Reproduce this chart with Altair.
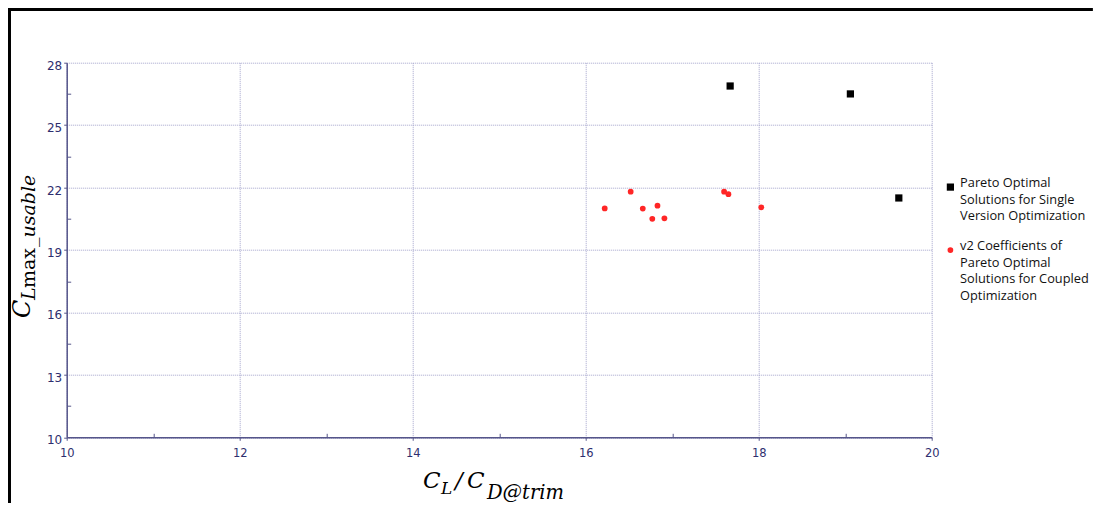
import json
import altair as alt
import pandas as pd

# ---------------- data ----------------
SERIES = ["single", "coupled"]
SINGLE_X = [17.67, 19.06, 19.62]
SINGLE_Y = [26.88, 26.50, 21.50]
COUPLED_X = [16.22, 16.52, 16.66, 16.77, 16.83, 16.91, 17.60, 17.65, 18.03]
COUPLED_Y = [21.00, 21.80, 20.99, 20.50, 21.13, 20.52, 21.80, 21.68, 21.05]
LEGEND_LINES = [
    ["Pareto Optimal", "Solutions for Single", "Version Optimization"],
    ["v2 Coefficients of", "Pareto Optimal", "Solutions for Coupled", "Optimization"],
]
X_TICKS = [10, 12, 14, 16, 18, 20]
Y_TICKS = [10, 13, 16, 19, 22, 25, 28]
X_MINOR = [11, 13, 15, 17, 19]
Y_MINOR = [11.5, 14.5, 17.5, 20.5, 23.5, 26.5]

df = pd.DataFrame({
    "x": SINGLE_X + COUPLED_X,
    "y": SINGLE_Y + COUPLED_Y,
    "series": [SERIES[0]] * len(SINGLE_X) + [SERIES[1]] * len(COUPLED_X),
})

# ---------------- layout ----------------
PAD_L, PAD_T, PAD_R, PAD_B = 58.7, 54.7, 161.2, 66
W, H = 865, 374.6
OX, OY = 8 + PAD_L, 8 + PAD_T  # page coords of plot origin

AXIS_COLOR = "#55558a"
LABEL_COLOR = "#2e2e6e"
GRID_COLOR = "#a4a4cc"
MATH_FONT = "DejaVu Serif"

xs = alt.Scale(domain=[10, 20], nice=False, zero=False)
ys = alt.Scale(domain=[10, 28], nice=False, zero=False)

label_expr = "datum.label == '%s' ? %s : %s" % (
    SERIES[0], json.dumps(LEGEND_LINES[0]), json.dumps(LEGEND_LINES[1]))

legend = alt.Legend(
    title=None, orient="none", legendX=877.3, legendY=118,
    labelExpr=label_expr, labelFont="Open Sans", labelFontSize=12.8,
    labelColor="#111111", labelBaseline="alphabetic", labelLimit=400,
    labelOffset=3.3, symbolStrokeWidth=0, rowPadding=16, padding=0,
)

points = alt.Chart(df).mark_point(filled=True, opacity=1, strokeWidth=0).encode(
    x=alt.X("x:Q", scale=xs, axis=alt.Axis(
        values=X_TICKS, title=None, grid=True, gridColor=GRID_COLOR, gridDash=[1, 1],
        gridWidth=1, domainColor=AXIS_COLOR, domainWidth=1.5, tickColor=AXIS_COLOR,
        tickSize=3, labelFont="DejaVu Sans", labelFontSize=11.5, labelColor=LABEL_COLOR,
        labelPadding=7, labelFlush=False, format="d")),
    y=alt.Y("y:Q", scale=ys, axis=alt.Axis(
        values=Y_TICKS, title=None, grid=True, gridColor=GRID_COLOR, gridDash=[1, 1],
        gridWidth=1, domainColor=AXIS_COLOR, domainWidth=1.5, tickColor=AXIS_COLOR,
        tickSize=3, labelFont="DejaVu Sans", labelFontSize=12, labelColor=LABEL_COLOR,
        labelPadding=2, labelFlush=False, labelOffset=2.5, format="d")),
    color=alt.Color("series:N", scale=alt.Scale(domain=SERIES, range=["#000000", "#ff2626"]), legend=legend),
    shape=alt.Shape("series:N", scale=alt.Scale(domain=SERIES, range=["square", "circle"]), legend=legend),
    size=alt.Size("series:N", scale=alt.Scale(domain=SERIES, range=[52, 33]), legend=legend),
)

minor = alt.Chart(df).mark_point(opacity=0).encode(
    x=alt.X("x:Q", scale=xs, axis=alt.Axis(
        orient="top", offset=-H, values=X_MINOR, labels=False, domain=False, grid=False,
        tickColor=AXIS_COLOR, tickSize=4, title=None)),
    y=alt.Y("y:Q", scale=ys, axis=alt.Axis(
        orient="right", offset=-W, values=Y_MINOR, labels=False, domain=False, grid=False,
        tickColor=AXIS_COLOR, tickSize=4, title=None)),
)

dummy = pd.DataFrame({"k": [0]})


def txt(t, size, style, px, py, angle=0):
    kw = dict(text=t, font=MATH_FONT, fontSize=size, fontStyle=style,
              align="left", baseline="alphabetic", color="#000000")
    if angle:
        kw["angle"] = angle
    return alt.Chart(dummy).mark_text(**kw).encode(
        x=alt.value(px - OX), y=alt.value(py - OY))


# y title pieces: (text, size, style, baseline x, start y) page coords
Y_TITLE = [("C", 24, "italic", 30, 318), ("L", 19, "italic", 35.5, 300),
           ("max", 19, "normal", 35.5, 288), ("_usable", 19, "italic", 35.5, 247)]
# x title pieces: (text, size, style, x, baseline y)
X_TITLE = [("C", 23, "italic", 423, 488), ("L", 17, "italic", 441, 494.5),
           ("/", 23, "italic", 455, 488), ("C", 23, "italic", 467, 488),
           ("D@trim", 19.5, "italic", 487, 499)]

titles = [txt(t, s, st, x, y, 270) for t, s, st, x, y in Y_TITLE]
titles += [txt(t, s, st, x, y) for t, s, st, x, y in X_TITLE]

frame_left = alt.Chart(dummy).mark_rule(color="#000000", strokeWidth=3).encode(
    x=alt.value(-PAD_L + 1.5), y=alt.value(-PAD_T), y2=alt.value(H + PAD_B))
frame_top = alt.Chart(dummy).mark_rule(color="#000000", strokeWidth=3).encode(
    x=alt.value(-PAD_L), x2=alt.value(W + PAD_R), y=alt.value(-PAD_T + 1.5))

chart = alt.layer(points, minor, *titles, frame_left, frame_top).resolve_axis(
    x="independent", y="independent"
).properties(
    width=W, height=H,
    autosize=alt.AutoSizeParams(type="none"),
    padding={"left": PAD_L, "top": PAD_T, "right": PAD_R, "bottom": PAD_B},
    background="#ffffff",
).configure_view(stroke=None)
chart.config.style = alt.StyleConfigIndex(**{"guide-label": alt.MarkConfig(lineHeight=16.7)})

chart.save("out.html", embed_options={"renderer": "svg", "actions": False})
